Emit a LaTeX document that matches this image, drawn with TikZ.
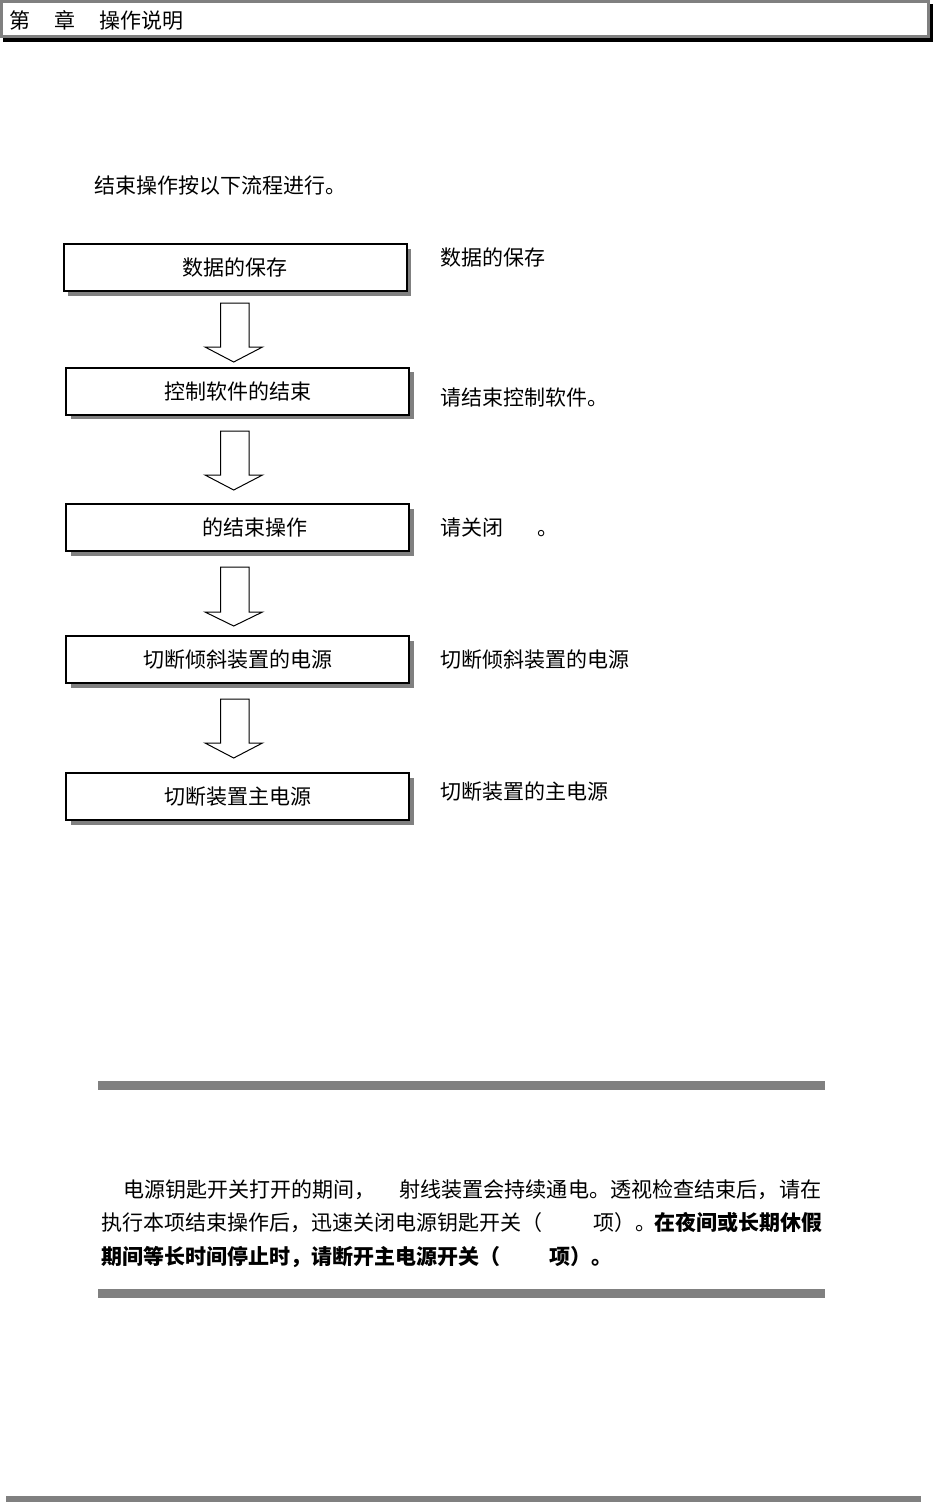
\documentclass[tikz,border=0pt]{standalone}
\usepackage{fontspec}
\setmainfont{Noto Sans CJK SC}
\usetikzlibrary{shadows}
\definecolor{midgray}{RGB}{128,128,128}
\newcommand{\flowarrow}[3]{%
  \draw[arrowshape] (220.5,#1) -- (249,#1) -- (249,#2) -- (262.5,#2) -- (233.7,#3) -- (205,#2) -- (220.5,#2) -- cycle;}
\begin{document}
\begin{tikzpicture}[x=1pt,y=-1pt,
  stepbox/.style={draw=black,line width=2pt,fill=white,minimum width=343pt,minimum height=47pt,
    inner sep=0pt,font=\fontsize{21}{25}\selectfont,
    drop shadow={shadow xshift=4.5pt,shadow yshift=-4.5pt,fill=midgray,opacity=1}},
  txt/.style={anchor=base west,inner sep=0pt,font=\fontsize{21}{25}\selectfont},
  txtb/.style={txt,font=\fontsize{21}{25}\selectfont\bfseries},
  arrowshape/.style={draw=black,line width=1pt,fill=white,line join=miter},
  bar/.style={fill=midgray,draw=none}]
\useasboundingbox (0,0) rectangle (933,1502);
% header
\fill[black] (3,4) rectangle (933,42);
\draw[line width=2.6pt,draw=midgray,fill=white] (1.3,1.3) rectangle (928.7,36.7);
\node[txt] (head) at (9,28) {第\hspace{24pt}章\hspace{24pt}操作说明};
% intro
\node[txt] (intro) at (94,193) {结束操作按以下流程进行。};
% flow boxes
\node[stepbox] (b1) at (235,267.5) {数据的保存};
\node[stepbox] (b2) at (237.5,391) {控制软件的结束};
\node[stepbox] (b3) at (237.5,527.5) {\hspace*{35pt}的结束操作};
\node[stepbox] (b4) at (237.5,659.5) {切断倾斜装置的电源};
\node[stepbox] (b5) at (237.5,796.5) {切断装置主电源};
% block arrows
\flowarrow{303}{347}{362}
\flowarrow{431}{475}{490}
\flowarrow{567}{612}{626}
\flowarrow{699}{743}{758}
% right side notes
\node[txt] (r1) at (440,265) {数据的保存};
\node[txt] (r2) at (440,405) {请结束控制软件。};
\node[txt] (r3) at (440,535) {请关闭\hspace{34pt}。};
\node[txt] (r4) at (440,667) {切断倾斜装置的电源};
\node[txt] (r5) at (440,799) {切断装置的主电源};
% caution block
\fill[bar] (98,1081) rectangle (825,1090);
\fill[bar] (98,1289) rectangle (825,1298);
\node[txt] (n1a) at (123,1197) {电源钥匙开关打开的期间，};
\node[txt,font=\fontsize{21.1}{25}\selectfont] (n1b) at (399,1197) {射线装置会持续通电。透视检查结束后，请在};
\node[txt] (n2a) at (101,1230) {执行本项结束操作后，迅速关闭电源钥匙开关（};
\node[txt] (n2b) at (593,1230) {项）。};
\node[txtb] (n2c) at (654,1230) {在夜间或长期休假};
\node[txtb] (n3a) at (101,1264) {期间等长时间停止时，请断开主电源开关（};
\node[txtb] (n3b) at (549,1264) {项）。};
% bottom rule
\fill[bar] (6,1496) rectangle (921,1502);
\end{tikzpicture}
\end{document}
